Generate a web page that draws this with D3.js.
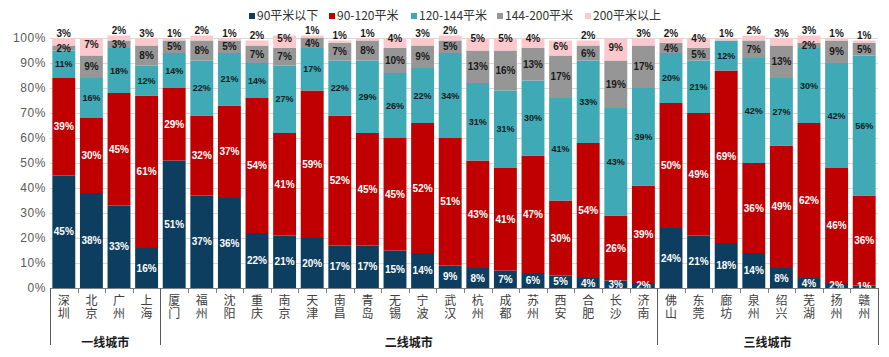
<!DOCTYPE html>
<html><head><meta charset="utf-8">
<script src="https://cdn.jsdelivr.net/npm/d3@7"></script>
<style>
html,body{margin:0;padding:0;background:#fff;}
svg{display:block;}
</style>
</head><body>
<svg id="chart" width="889" height="357"></svg>
<script>
const categories = ["深圳","北京","广州","上海","厦门","福州","沈阳","重庆","南京","天津","南昌","青岛","无锡","宁波","武汉","杭州","成都","苏州","西安","合肥","长沙","济南","佛山","东莞","廊坊","泉州","绍兴","芜湖","扬州","赣州"];
const tierNames = ["一线城市","二线城市","三线城市"];
const tierSizes = [4,18,8];
const seriesNames = ["90平米以下","90-120平米","120-144平米","144-200平米","200平米以上"];
const s90 = [45,38,33,16,51,37,36,22,21,20,17,17,15,14,9,8,7,6,5,4,3,2,24,21,18,14,8,4,2,1];
const s90_120 = [39,30,45,61,29,32,37,54,41,59,52,45,45,52,51,43,41,47,30,54,26,39,50,49,69,36,49,62,46,36];
const s120_144 = [11,16,18,12,14,22,21,14,27,17,22,29,26,22,34,31,31,30,41,33,43,39,20,21,12,42,27,30,42,56];
const s144_200 = [2,9,3,8,5,8,5,7,7,4,7,8,10,9,5,13,16,13,17,6,19,17,4,5,0,7,13,2,9,5];
const s200 = [3,7,2,3,1,2,1,2,5,1,1,1,4,3,2,5,5,4,6,2,9,3,2,4,1,2,3,3,1,1];
const yTicks = [0,10,20,30,40,50,60,70,80,90,100];

const colors = ["#0d3d5f","#c00000","#3fa9b5","#969696","#fbc8cd"];
const labelColors = ["#ffffff","#ffffff","#1a1a1a","#1a1a1a","#1a1a1a"];
const labelSizes = [10,10,9,10,10];

const seriesData = [s90,s90_120,s120_144,s144_200,s200];
const rows = categories.map((c,i)=>{
  const r = {city:c};
  seriesNames.forEach((s,j)=>{ r[s]=seriesData[j][i]; });
  return r;
});

const svg = d3.select("#chart");
const pL = 50, pR = 878, pT = 38, pB = 288;
const x = d3.scaleBand().domain(categories).range([pL,pR]).paddingInner(0.17).paddingOuter(0.085);
const y = d3.scaleLinear().domain([0,100]).range([pB,pT]);

const font = "'Liberation Sans', Arial, 'Noto Sans CJK SC', sans-serif";
const cjk = "'Noto Sans CJK SC', 'Liberation Sans', sans-serif";

// gridlines
svg.append("g").selectAll("line").data(yTicks.filter(t=>t>0)).join("line")
  .attr("x1",pL).attr("x2",pR)
  .attr("y1",d=>y(d)+0.5).attr("y2",d=>y(d)+0.5)
  .attr("stroke","#d9d9d9").attr("stroke-width",1);

// y axis labels
const yAxis = d3.axisLeft(y).tickValues(yTicks).tickFormat(d=>d+"%").tickSize(0).tickPadding(3);
const ya = svg.append("g").attr("transform",`translate(${pL},0)`).call(yAxis);
ya.select(".domain").remove();
ya.selectAll("text").attr("fill","#595959").style("font-size","12px").style("font-family",font)
  .style("letter-spacing","0.6px").attr("dx","-1");

const stack = d3.stack().keys(seriesNames);
const stacked = stack(rows);

const g = svg.append("g");
stacked.forEach((layer,j)=>{
  g.append("g").selectAll("rect").data(layer).join("rect")
    .attr("x",d=>x(d.data.city))
    .attr("width",x.bandwidth())
    .attr("y",d=>y(d[1]))
    .attr("height",d=>Math.max(0,y(d[0])-y(d[1])))
    .attr("fill",colors[j]);
});

// labels
const lg = svg.append("g");
stacked.forEach((layer,j)=>{
  lg.append("g").selectAll("text").data(layer.filter(d=>d[1]-d[0]>0)).join("text")
    .attr("x",d=>x(d.data.city)+x.bandwidth()/2)
    .attr("y",d=>{
      const v = d[1]-d[0];
      const c = (y(d[0])+y(d[1]))/2;
      if(j===4){
        if(v<=3) return y(d[1])-5;
        if(v<=5) return Math.max(y(d[1]),pT);
        return c-2;
      }
      return c;
    })
    .attr("dy","0.35em")
    .attr("text-anchor","middle")
    .attr("fill",labelColors[j])
    .style("font-size",labelSizes[j]+"px")
    .style("font-weight","bold")
    .style("font-family",font)
    .text(d=>(d[1]-d[0])+"%");
});

// x axis line
svg.append("line").attr("x1",pL).attr("x2",pR).attr("y1",pB+0.5).attr("y2",pB+0.5)
  .attr("stroke","#7f7f7f").attr("stroke-width",1);

// category ticks
const step = x.step();
const boundaries = categories.map(c=>x(c)-step*x.paddingInner()/2).slice(1);
svg.append("g").selectAll("line").data(boundaries).join("line")
  .attr("x1",d=>Math.round(d)+0.5).attr("x2",d=>Math.round(d)+0.5)
  .attr("y1",pB).attr("y2",pB+5)
  .attr("stroke","#7f7f7f");

// category labels (vertical text)
svg.append("g").selectAll("text").data(categories).join("text")
  .attr("x",d=>x(d)+x.bandwidth()/2)
  .attr("y",pB+6)
  .style("writing-mode","vertical-rl")
  .style("text-orientation","upright")
  .style("letter-spacing","1px")
  .attr("fill","#404040")
  .style("font-size","12px")
  .style("font-family",cjk)
  .text(d=>d);

// group separators and labels
let idx = 0;
const seps = [pL];
const groups = [];
tierSizes.forEach((n,k)=>{
  const first = categories[idx], last = categories[idx+n-1];
  const x0 = idx===0 ? pL : x(first)-step*x.paddingInner()/2;
  const x1 = (idx+n)===categories.length ? pR : x(last)+x.bandwidth()+step*x.paddingInner()/2;
  groups.push({name:tierNames[k],x0,x1});
  seps.push(x1);
  idx += n;
});
svg.append("g").selectAll("line").data(seps).join("line")
  .attr("x1",d=>Math.round(d)+0.5).attr("x2",d=>Math.round(d)+0.5)
  .attr("y1",pB).attr("y2",345)
  .attr("stroke","#595959").attr("stroke-width",1);
svg.append("g").selectAll("text").data(groups).join("text")
  .attr("x",d=>(d.x0+d.x1)/2).attr("y",343)
  .attr("dy","0.35em")
  .attr("text-anchor","middle")
  .attr("fill","#1a1a1a")
  .style("font-size","12px").style("font-weight","bold").style("font-family",cjk)
  .text(d=>d.name);

// legend
const legendX = [249,329,411,497,585];
const leg = svg.append("g");
seriesNames.forEach((s,j)=>{
  leg.append("rect").attr("x",legendX[j]).attr("y",13).attr("width",6).attr("height",6).attr("fill",colors[j]);
  leg.append("text").attr("x",legendX[j]+8).attr("y",16).attr("dy","0.35em")
    .attr("fill","#333333").style("font-size","12px").style("font-family",cjk).text(s);
});
</script>
</body></html>
